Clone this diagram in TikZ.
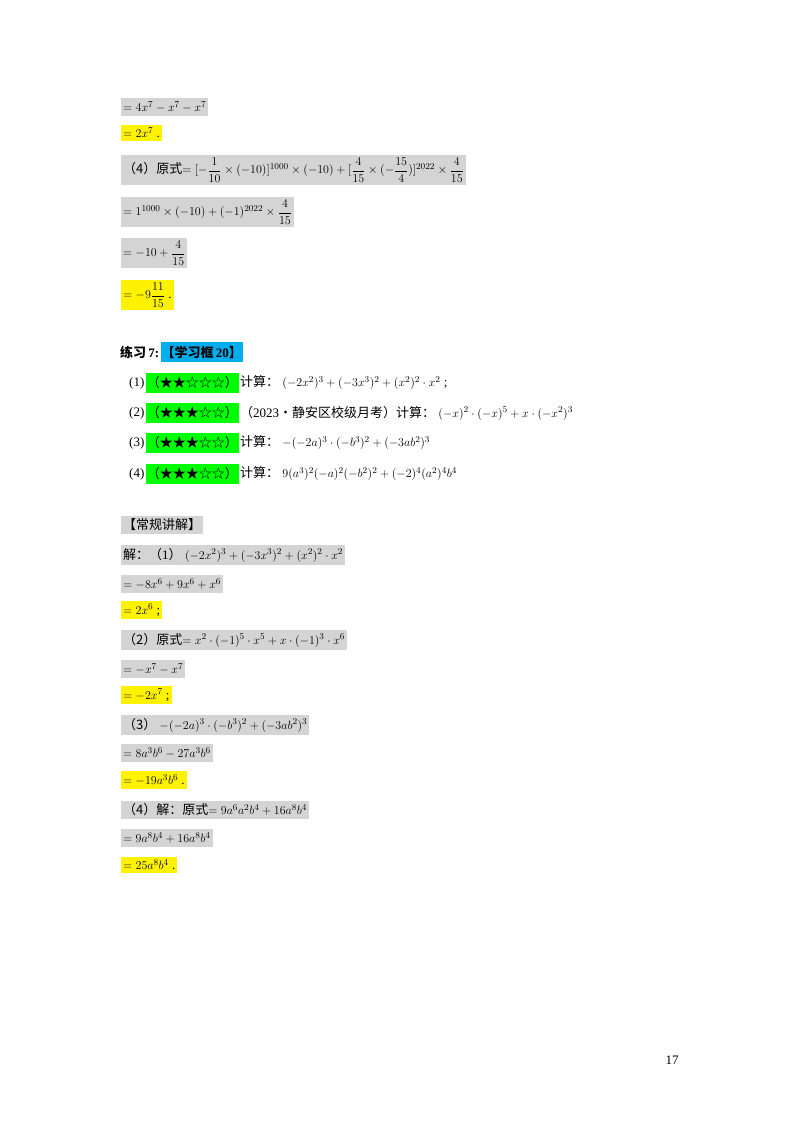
\documentclass[tikz,border=0pt]{standalone}
\usepackage{amsmath}
\usepackage{fontspec}
\setmainfont{Liberation Serif}
\newfontfamily\cjk{Noto Sans CJK SC}
\newcommand{\zh}[1]{{\cjk #1}}
\begin{document}
\begin{tikzpicture}[x=1pt,y=-1pt,
  every node/.style={font=\fontsize{13}{15}\selectfont},
  ln/.style={anchor=west,inner xsep=2pt,inner ysep=3pt},
  gr/.style={ln,fill=black!17},
  yl/.style={ln,fill=yellow},
  gn/.style={anchor=west,inner xsep=1pt,inner ysep=4pt,fill=green},
  pl/.style={anchor=west,inner sep=1pt}]
\useasboundingbox (0,0) rectangle (800,1132);
\node[gr] (a1) at (121,107) {$=4x^7-x^7-x^7$};
\node[yl] (a2) at (121,133) {$=2x^7$\ .};
\node[gr] (a3) at (121,170) {\zh{（4）原式}$=[-\dfrac{1}{10}\times(-10)]^{1000}\times(-10)+[\dfrac{4}{15}\times(-\dfrac{15}{4})]^{2022}\times\dfrac{4}{15}$};
\node[gr] (a4) at (121,212) {$=1^{1000}\times(-10)+(-1)^{2022}\times\dfrac{4}{15}$};
\node[gr] (a5) at (121,253) {$=-10+\dfrac{4}{15}$};
\node[yl] (a6) at (121,295) {$=-9\dfrac{11}{15}$\ .};

\node[pl] (h) at (119,352) {\zh{\bfseries 练习}\,\textbf{7:}};
\node[anchor=west,fill=cyan,inner xsep=1pt,inner ysep=4pt] (hb) at (h.east) {\zh{\bfseries 【学习框}\,\textbf{20}\zh{\bfseries 】}};

\node[pl] (p1) at (128,383) {(1)};
\node[gn] (s1) at (p1.east) {\zh{（★★☆☆☆）}};
\node[pl] (f1) at (s1.east) {\zh{计算：}$\;(-2x^2)^3+(-3x^3)^2+(x^2)^2\cdot x^2$\ ;};
\node[pl] (p2) at (128,413) {(2)};
\node[gn] (s2) at (p2.east) {\zh{（★★★☆☆）}};
\node[pl] (f2) at (s2.east) {\zh{（}2023\zh{•静安区校级月考）计算：}$\;(-x)^2\cdot(-x)^5+x\cdot(-x^2)^3$};
\node[pl] (p3) at (128,443) {(3)};
\node[gn] (s3) at (p3.east) {\zh{（★★★☆☆）}};
\node[pl] (f3) at (s3.east) {\zh{计算：}$\;-(-2a)^3\cdot(-b^3)^2+(-3ab^2)^3$};
\node[pl] (p4) at (128,474) {(4)};
\node[gn] (s4) at (p4.east) {\zh{（★★★☆☆）}};
\node[pl] (f4) at (s4.east) {\zh{计算：}$\;9(a^3)^2(-a)^2(-b^2)^2+(-2)^4(a^2)^4b^4$};

\node[gr] (b0) at (121,525) {\zh{【常规讲解】}};
\node[gr] (b1) at (121,555) {\zh{解：（}1\zh{）}$\;(-2x^2)^3+(-3x^3)^2+(x^2)^2\cdot x^2$};
\node[gr] (b2) at (121,584) {$=-8x^6+9x^6+x^6$};
\node[yl] (b3) at (121,610) {$=2x^6$\ ;};
\node[gr] (b4) at (121,640) {\zh{（2）原式}$=x^2\cdot(-1)^5\cdot x^5+x\cdot(-1)^3\cdot x^6$};
\node[gr] (b5) at (121,669) {$=-x^7-x^7$};
\node[yl] (b6) at (121,695) {$=-2x^7$\ ;};
\node[gr] (b7) at (121,725) {\zh{（3）}$\;-(-2a)^3\cdot(-b^3)^2+(-3ab^2)^3$};
\node[gr] (b8) at (121,753) {$=8a^3b^6-27a^3b^6$};
\node[yl] (b9) at (121,780) {$=-19a^3b^6$\ .};
\node[gr] (b10) at (121,810) {\zh{（4）解：原式}$=9a^6a^2b^4+16a^8b^4$};
\node[gr] (b11) at (121,838) {$=9a^8b^4+16a^8b^4$};
\node[yl] (b12) at (121,865) {$=25a^8b^4$\ .};

\node (pg) at (672,1060) {17};
\end{tikzpicture}
\end{document}
